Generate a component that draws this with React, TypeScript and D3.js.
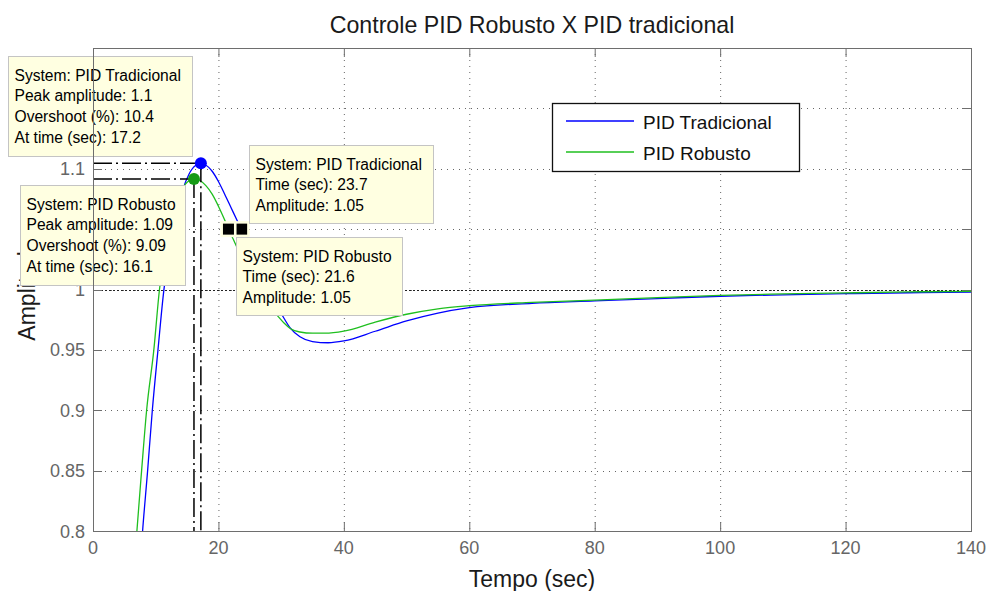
import React from "react";
import * as d3 from "d3";

const width = 987;
const height = 591;
const margin = { top: 48, right: 16, bottom: 60, left: 93 };

// step response: time (s) and amplitude
const timeTrad = [5, 6, 7, 7.9, 8.7, 9.45, 10.35, 11.3, 12.3, 13.3, 14.3, 15.3, 16.3, 17.2, 18, 19, 20, 21, 22, 23, 23.7, 25, 27, 29, 30.6, 31.4, 33, 35, 37.5, 40, 45, 50, 55, 60, 70, 80, 90, 100, 110, 120, 130, 140];
const ampTrad = [0.55, 0.64, 0.73, 0.8, 0.85, 0.9, 0.95, 1.0, 1.035, 1.063, 1.083, 1.096, 1.103, 1.1045, 1.1035, 1.0985, 1.09, 1.0795, 1.0685, 1.0575, 1.05, 1.0355, 1.0125, 0.99, 0.9755, 0.969, 0.9615, 0.9575, 0.9565, 0.958, 0.966, 0.9745, 0.981, 0.9855, 0.9891, 0.9911, 0.9931, 0.995, 0.9962, 0.9971, 0.9979, 0.9984];

const timeRob = [4, 5, 6, 7, 7.75, 8.55, 9.7, 10.6, 11.6, 12.6, 13.6, 14.7, 15.4, 16.1, 17, 18, 19, 20, 21, 21.6, 22.6, 24, 26, 28, 29.3, 30.5, 31.5, 33, 35, 37, 40, 45, 50, 55, 60, 70, 80, 90, 100, 110, 120, 130, 140];
const ampRob = [0.55, 0.64, 0.72, 0.8, 0.85, 0.9, 0.95, 1.0, 1.033, 1.058, 1.075, 1.087, 1.0905, 1.092, 1.0905, 1.086, 1.079, 1.069, 1.0575, 1.05, 1.039, 1.023, 1.001, 0.986, 0.979, 0.972, 0.9675, 0.9648, 0.9638, 0.9638, 0.9655, 0.973, 0.9795, 0.984, 0.9866, 0.9893, 0.9912, 0.9932, 0.9951, 0.9963, 0.9972, 0.998, 0.9985];

const seriesNames = ["PID Tradicional", "PID Robusto"];
const seriesColors = ["#0000ff", "#1fbf1f"];
const markerColors = ["#0000ff", "#159a15"];

// data cursors
const peakTime = [17.2, 16.1];
const peakAmp = [1.1045, 1.0915];
const peakLabel = ["1.1", "1.09"];
const overshoot = ["10.4", "9.09"];
const cursorTime = [23.7, 21.6];
const cursorAmp = [1.05, 1.05];

const xTicks = [0, 20, 40, 60, 80, 100, 120, 140];
const yTicks = [0.8, 0.85, 0.9, 0.95, 1, 1.05, 1.1, 1.15];
// labels 1.05 and 1.15 sit under the datatips in the picture
const yTickLabels = ["0.8", "0.85", "0.9", "0.95", "1", "", "1.1", ""];

const font = "'Liberation Sans', Arial, sans-serif";

const App = () => {
  const x = d3.scaleLinear().domain([0, 140]).range([margin.left, width - margin.right]);
  const y = d3.scaleLinear().domain([0.8, 1.2]).range([height - margin.bottom, margin.top]);
  const [x0, x1] = x.range();
  const [yb, yt] = y.range();

  const line = d3
    .line<[number, number]>()
    .x((d) => x(d[0]))
    .y((d) => y(d[1]))
    .curve(d3.curveMonotoneX);

  const trad = timeTrad.map((t, i) => [t, ampTrad[i]] as [number, number]);
  const rob = timeRob.map((t, i) => [t, ampRob[i]] as [number, number]);

  // datatip boxes: box position, text lines
  const tips = [
    { bx: 8, by: 56, w: 184, h: 100, lines: [`System: ${seriesNames[0]}`, `Peak amplitude: ${peakLabel[0]}`, `Overshoot (%): ${overshoot[0]}`, `At time (sec): ${peakTime[0]}`] },
    { bx: 20, by: 185, w: 165, h: 100, lines: [`System: ${seriesNames[1]}`, `Peak amplitude: ${peakLabel[1]}`, `Overshoot (%): ${overshoot[1]}`, `At time (sec): ${peakTime[1]}`] },
    { bx: 249, by: 145, w: 184, h: 78, lines: [`System: ${seriesNames[0]}`, `Time (sec): ${cursorTime[0]}`, `Amplitude: ${cursorAmp[0].toFixed(2)}`] },
    { bx: 236, by: 237, w: 166, h: 78, lines: [`System: ${seriesNames[1]}`, `Time (sec): ${cursorTime[1]}`, `Amplitude: ${cursorAmp[1].toFixed(2)}`] },
  ];

  const dashDot = "19,4,2,4";

  return (
    <svg width={width} height={height} style={{ position: "absolute", left: 0, top: 0, background: "#fff" }}>
      <defs>
        <clipPath id="plot">
          <rect x={x0} y={yt} width={x1 - x0} height={yb - yt} />
        </clipPath>
      </defs>

      {/* grid */}
      <g stroke="#666" strokeWidth={1} strokeDasharray="1,5">
        {xTicks.slice(1, -1).map((t) => (
          <line key={`gx${t}`} x1={x(t) + 0.5} x2={x(t) + 0.5} y1={yt} y2={yb} />
        ))}
        {yTicks.slice(1).map((t) => (
          <line key={`gy${t}`} x1={x0} x2={x1} y1={Math.round(y(t)) + 0.5} y2={Math.round(y(t)) + 0.5} />
        ))}
      </g>
      {/* steady state */}
      <line x1={x0} x2={x1} y1={Math.round(y(1)) + 0.5} y2={Math.round(y(1)) + 0.5} stroke="#222" strokeDasharray="2,2" />

      {/* ticks */}
      <g stroke="#6e6e6e" strokeWidth={1}>
        {xTicks.map((t) => (
          <g key={`tx${t}`}>
            <line x1={x(t) + 0.5} x2={x(t) + 0.5} y1={yb} y2={yb - 9} />
            <line x1={x(t) + 0.5} x2={x(t) + 0.5} y1={yt} y2={yt + 9} />
          </g>
        ))}
        {yTicks.map((t) => (
          <g key={`ty${t}`}>
            <line x1={x0} x2={x0 + 9} y1={Math.round(y(t)) + 0.5} y2={Math.round(y(t)) + 0.5} />
            <line x1={x1} x2={x1 - 9} y1={Math.round(y(t)) + 0.5} y2={Math.round(y(t)) + 0.5} />
          </g>
        ))}
      </g>

      {/* responses */}
      <g clipPath="url(#plot)" fill="none">
        <path d={line(trad) ?? ""} stroke={seriesColors[0]} strokeWidth={1.3} transform="translate(0,0.7)" />
        <path d={line(rob) ?? ""} stroke={seriesColors[1]} strokeWidth={1.3} />
      </g>

      {/* peak guide lines */}
      <g stroke="#000" strokeWidth={1.5} strokeDasharray={dashDot} fill="none">
        {peakTime.map((t, i) => (
          <g key={`pk${i}`}>
            <line x1={x0} x2={x(t)} y1={y(peakAmp[i])} y2={y(peakAmp[i])} />
            <line x1={x(t)} x2={x(t)} y1={y(peakAmp[i])} y2={yb} />
          </g>
        ))}
      </g>
      {peakTime.map((t, i) => (
        <circle key={`pm${i}`} cx={x(t)} cy={y(peakAmp[i])} r={6} fill={markerColors[i]} />
      ))}
      {cursorTime.map((t, i) => (
        <g key={`cm${i}`}>
          <rect x={x(t) - 8} y={y(cursorAmp[i]) - 8} width={16} height={16} fill="#ffffe1" />
          <rect x={x(t) - 5.5} y={y(cursorAmp[i]) - 5.5} width={11} height={11} fill="#000" />
        </g>
      ))}

      {/* tick labels */}
      <g fontFamily={font} fontSize={18} fill="#666">
        {xTicks.map((t) => (
          <text key={`lx${t}`} x={x(t)} y={yb + 22.5} textAnchor="middle">
            {t}
          </text>
        ))}
        {yTicks.map((t, i) =>
          yTickLabels[i] ? (
            <text key={`ly${t}`} x={x0 - 8} y={y(t) + 6.5} textAnchor="end">
              {yTickLabels[i]}
            </text>
          ) : null
        )}
      </g>

      {/* titles */}
      <text x={(x0 + x1) / 2} y={32.5} textAnchor="middle" fontFamily={font} fontSize={23.2} fill="#1a1a1a">
        Controle PID Robusto X PID tradicional
      </text>
      <text x={(x0 + x1) / 2} y={587} textAnchor="middle" fontFamily={font} fontSize={23} fill="#1a1a1a">
        Tempo (sec)
      </text>
      <text transform={`translate(35,${(yt + yb) / 2}) rotate(-90)`} textAnchor="middle" fontFamily={font} fontSize={23} fill="#1a1a1a">
        Amplitude
      </text>

      {/* legend */}
      <g>
        <rect x={552.5} y={103.5} width={247} height={68} fill="#fff" stroke="#111" strokeWidth={1.3} />
        {seriesNames.map((name, i) => (
          <g key={name}>
            <line x1={566} x2={634} y1={121 + i * 31} y2={121 + i * 31} stroke={seriesColors[i]} strokeWidth={1.4} />
            <text x={643} y={129 + i * 31} fontFamily={font} fontSize={19} fill="#111">
              {name}
            </text>
          </g>
        ))}
      </g>

      {/* datatips */}
      {tips.map((tip, k) => (
        <g key={`tip${k}`}>
          <rect x={tip.bx + 0.5} y={tip.by + 0.5} width={tip.w} height={tip.h} fill="#ffffe1" stroke="#c4c4c4" />
          {tip.lines.map((s, j) => (
            <text key={j} x={tip.bx + 6.5} y={tip.by + 24.5 + j * 20.7} fontFamily={font} fontSize={15.6} fill="#000">
              {s}
            </text>
          ))}
        </g>
      ))}

      {/* axes box on top */}
      <rect x={x0 + 0.5} y={yt + 0.5} width={x1 - x0} height={yb - yt} fill="none" stroke="#6e6e6e" strokeWidth={1} />
    </svg>
  );
};

export default App;
